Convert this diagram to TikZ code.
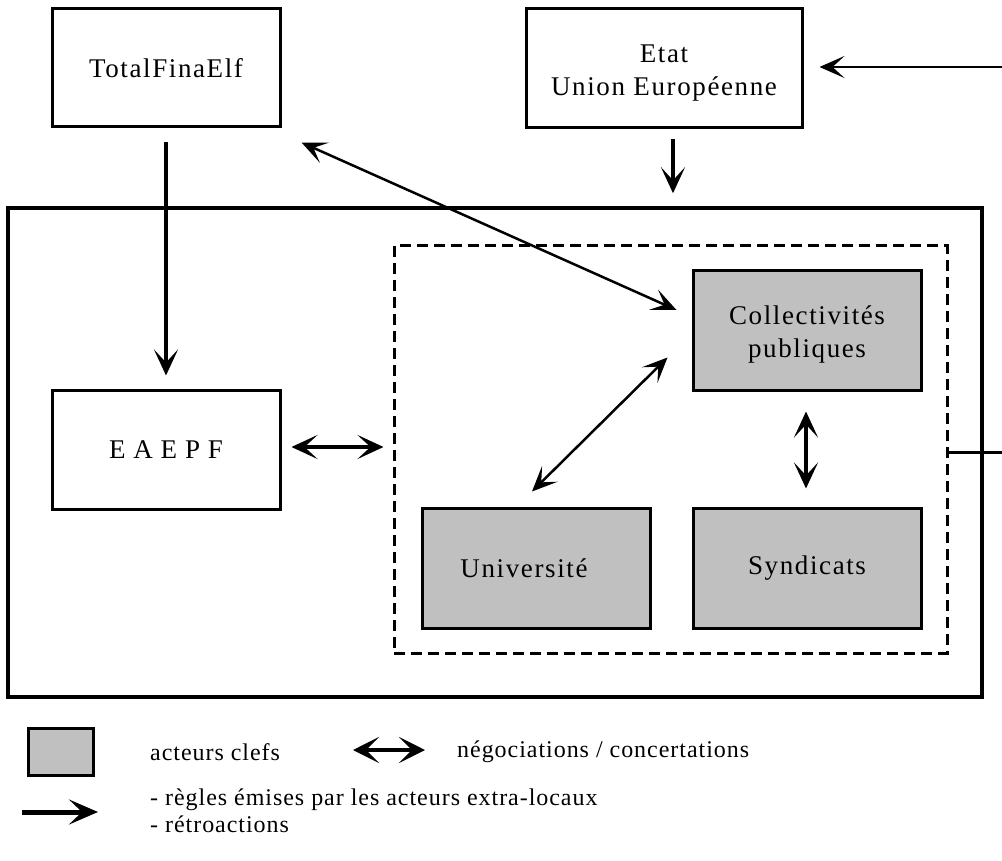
\documentclass[tikz,border=0pt]{standalone}
\usepackage{fontspec}
\setmainfont{Liberation Serif}[LetterSpace=6]
\newfontfamily\legfont{Liberation Serif}[LetterSpace=4]
\newfontfamily\spfont{Liberation Serif}[LetterSpace=29]
\usetikzlibrary{arrows.meta}
\definecolor{keygray}{HTML}{C0C0C0}
\tikzset{
  box/.style={draw, line width=3pt, rectangle, inner sep=0pt, font=\fontsize{27}{33}\selectfont, align=center},
  keybox/.style={box, fill=keygray},
  big/.style={-{Stealth[length=26pt,width=24pt,inset=13pt]}, line width=3.5pt},
  bigd/.style={{Stealth[length=26pt,width=24pt,inset=13pt]}-{Stealth[length=26pt,width=24pt,inset=13pt]}, line width=3.5pt},
  thind/.style={{Stealth[length=25pt,width=22pt,inset=12pt]}-{Stealth[length=25pt,width=22pt,inset=12pt]}, line width=2.5pt},
  thin/.style={-{Stealth[length=25pt,width=22pt,inset=12pt]}, line width=2.5pt},
  legtext/.style={anchor=west, inner sep=0pt, font=\legfont\fontsize{24}{27}\selectfont, align=left}
}
\begin{document}
\begin{tikzpicture}[x=1pt,y=-1pt]
\useasboundingbox (0,0) rectangle (1002,861);
% boxes
\node[box, minimum width=228pt, minimum height=118pt] (tfe) at (166,68) {TotalFinaElf};
\node[box, minimum width=276pt, minimum height=119pt] (etat) at (664,68.5) {\rule{0pt}{26pt}Etat\\Union Européenne};
\node[draw, line width=3.5pt, minimum width=974pt, minimum height=489pt, inner sep=0pt] (outer) at (495,452.5) {};
\node[draw, line width=3pt, dash pattern=on 11pt off 6pt, minimum width=553pt, minimum height=407pt, inner sep=0pt] (dashed) at (670.5,449.5) {};
\node[box, minimum width=228pt, minimum height=119pt] (eaepf) at (166,449.5) {\spfont EAEPF};
\node[keybox, minimum width=228pt, minimum height=119pt] (coll) at (807,330.5) {\rule{0pt}{26pt}Collectivités\\publiques};
\node[keybox, minimum width=228pt, minimum height=120pt] (univ) at (536,568) {Université\hspace*{24pt}};
\node[keybox, minimum width=228pt, minimum height=120pt] (synd) at (807,568) {Syndicats};
% connectors
\draw[big, shorten <=14pt, shorten >=13pt] (tfe.south) -- (eaepf.north);
\draw[big, shorten <=10pt, shorten >=13pt] ([xshift=9pt]etat.south) -- ([xshift=9pt]etat.south |- outer.north);
\coordinate (fbtop) at (1002,67);
\coordinate (fbright) at (1002,452);
\draw[thin, shorten >=16pt] (fbtop) -- (etat.east |- fbtop);
\draw[line width=3pt] (dashed.east |- fbright) -- (fbright);
\draw[thind] ([shift={(20,14)}]tfe.south east) -- ([shift={(-15,-20.5)}]coll.west);
\draw[thind] ([shift={(-4,-15)}]univ.north) -- ([shift={(-24,-34)}]coll.south west);
\draw[bigd, shorten <=20pt, shorten >=18pt] ([xshift=-1pt]coll.south) -- ([xshift=-1pt]synd.north);
\draw[bigd, shorten <=10pt, shorten >=9pt] ([yshift=2.5]eaepf.east) -- ([yshift=2.5]eaepf.east -| dashed.west);
% legend
\node[draw, line width=3pt, fill=keygray, minimum width=65pt, minimum height=47pt, inner sep=0pt] (legbox) at (60.5,751.5) {};
\node[legtext] (legkey) at (150,752) {acteurs clefs};
\coordinate (lda) at (353,750);
\coordinate (ldb) at (425,750);
\draw[{Stealth[length=26pt,width=26pt,inset=13pt]}-{Stealth[length=26pt,width=26pt,inset=13pt]}, line width=4pt] (lda) -- (ldb);
\node[legtext] (legneg) at (457,752) {négociations / concertations};
\coordinate (lra) at (22,812);
\coordinate (lrb) at (98,812);
\draw[-{Stealth[length=29pt,width=25pt,inset=13pt]}, line width=5pt] (lra) -- (lrb);
\node[legtext] (legrules) at (150,811) {- règles émises par les acteurs extra-locaux\\- rétroactions};
\end{tikzpicture}
\end{document}
